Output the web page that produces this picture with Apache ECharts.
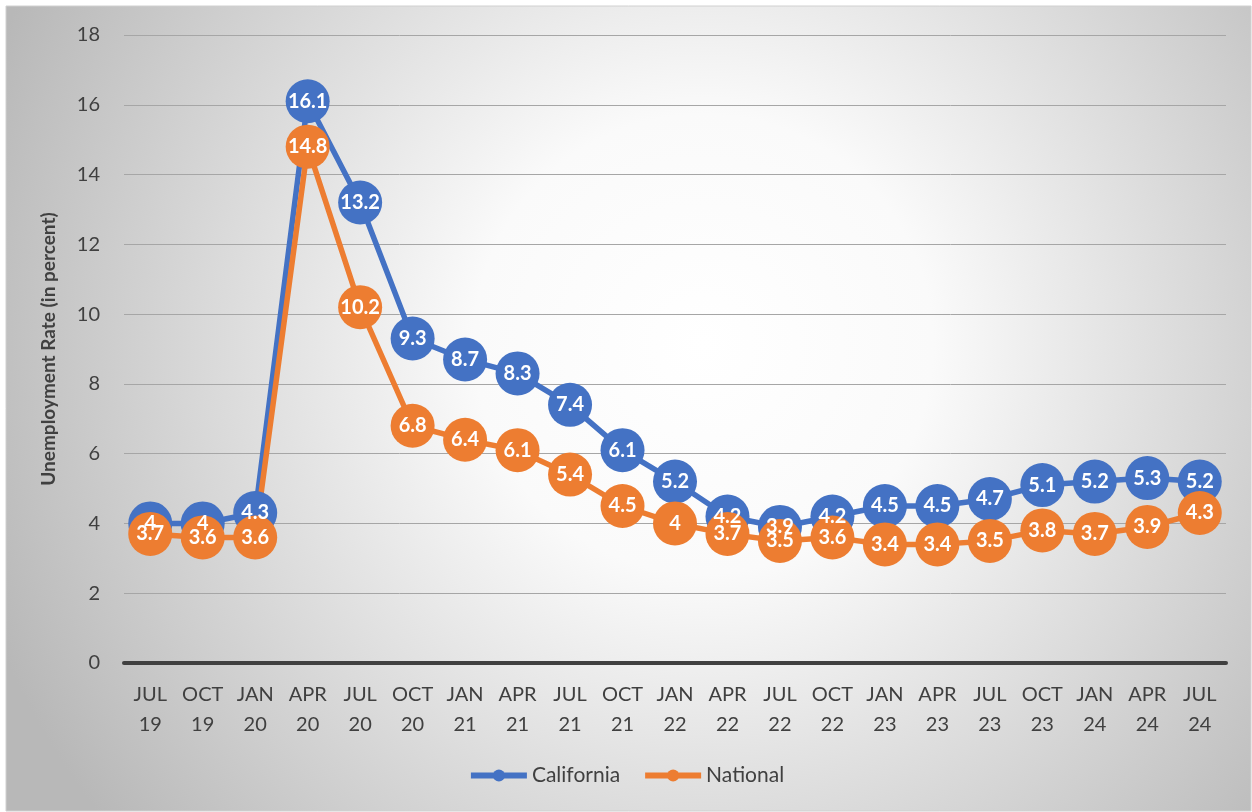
<!DOCTYPE html>
<html><head><meta charset="utf-8">
<script src="https://cdn.jsdelivr.net/npm/echarts@6/dist/echarts.min.js"></script>
<style>html,body{margin:0;padding:0;background:#fff;}#c{width:1252px;height:812px;}</style>
</head><body><div id="c"></div>
<script>
const categories = ['JUL\n19','OCT\n19','JAN\n20','APR\n20','JUL\n20','OCT\n20','JAN\n21','APR\n21','JUL\n21','OCT\n21','JAN\n22','APR\n22','JUL\n22','OCT\n22','JAN\n23','APR\n23','JUL\n23','OCT\n23','JAN\n24','APR\n24','JUL\n24'];
const california = [4, 4, 4.3, 16.1, 13.2, 9.3, 8.7, 8.3, 7.4, 6.1, 5.2, 4.2, 3.9, 4.2, 4.5, 4.5, 4.7, 5.1, 5.2, 5.3, 5.2];
const national = [3.7, 3.6, 3.6, 14.8, 10.2, 6.8, 6.4, 6.1, 5.4, 4.5, 4, 3.7, 3.5, 3.6, 3.4, 3.4, 3.5, 3.8, 3.7, 3.9, 4.3];

const FONT = 'Lato';
const chart = echarts.init(document.getElementById('c'));
function mkSeries(name, data, color) {
  return {
    name, type: 'line', data,
    symbol: 'circle', symbolSize: 44,
    lineStyle: {width: 5.5, color},
    itemStyle: {color},
    label: {show: true, position: 'inside', color: '#fff', fontFamily: FONT, fontWeight: 'bold', fontSize: 20},
    emphasis: {disabled: true},
    animation: false
  };
}
chart.setOption({
  animation: false,
  graphic: [{
    type: 'rect', z: -10, silent: true,
    shape: {x: 6, y: 6, width: 1245, height: 805},
    style: {
      fill: new echarts.graphic.RadialGradient(0.56, 0.42, 0.95, [
        {offset: 0, color: '#ffffff'},
        {offset: 0.3, color: '#fafafa'},
        {offset: 1, color: '#b8b8b8'}
      ]),
      stroke: '#d0d0d0', lineWidth: 1
    }
  }],
  grid: {left: 124, right: 26, top: 35, bottom: 149, containLabel: false},
  legend: {
    bottom: 21, left: 'center',
    itemWidth: 56, itemHeight: 15, itemGap: 22,
    lineStyle: {width: 6},
    textStyle: {fontFamily: FONT, fontSize: 21, color: '#404040'},
    data: ['California', 'National']
  },
  xAxis: {
    type: 'category', data: categories, boundaryGap: true,
    axisLine: {lineStyle: {color: '#404040', width: 4}},
    axisTick: {show: false},
    axisLabel: {fontFamily: FONT, fontSize: 20, color: '#404040', lineHeight: 30, margin: 17, interval: 0}
  },
  yAxis: {
    type: 'value', min: 0, max: 18, interval: 2,
    name: 'Unemployment Rate (in percent)', nameLocation: 'middle', nameGap: 66, nameRotate: 90,
    nameTextStyle: {fontFamily: FONT, fontSize: 19, fontWeight: 'bold', color: '#404040'},
    axisLine: {show: false}, axisTick: {show: false},
    axisLabel: {fontFamily: FONT, fontSize: 20, color: '#404040', margin: 24},
    splitLine: {lineStyle: {color: '#a6a6a6', width: 1}}
  },
  series: [mkSeries('California', california, '#4472C4'), mkSeries('National', national, '#ED7D31')]
});
</script></body></html>
